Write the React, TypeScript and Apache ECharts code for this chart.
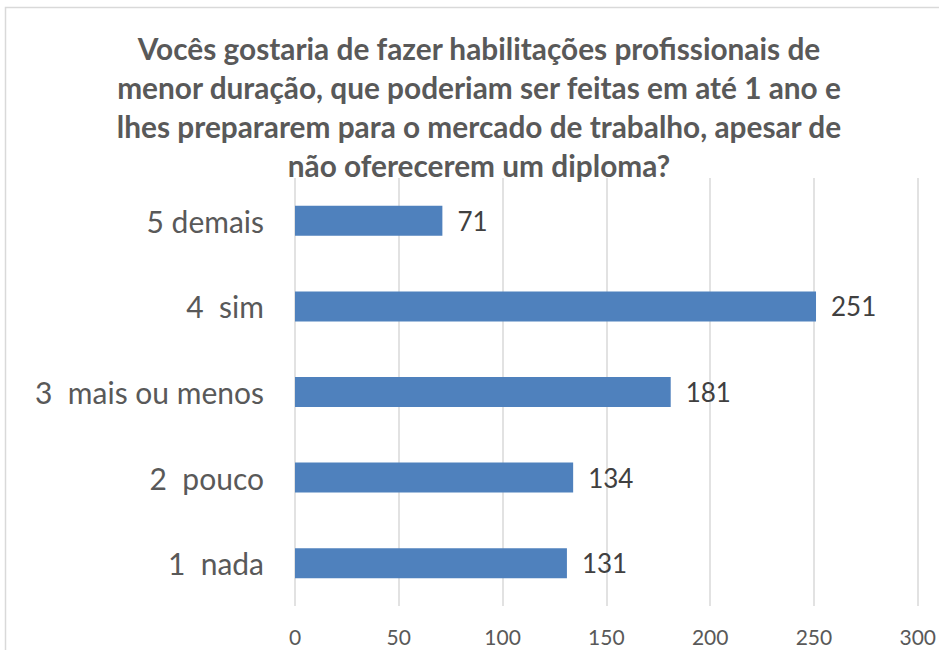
import React, { useEffect, useRef } from "react";
import * as echarts from "echarts";

const categories = ["1  nada", "2  pouco", "3  mais ou menos", "4  sim", "5 demais"];
const values = [131, 134, 181, 251, 71];
const titleText =
  "Vocês gostaria de fazer habilitações profissionais de\nmenor duração, que poderiam ser feitas em até 1 ano e\nlhes prepararem para o mercado de trabalho, apesar de\nnão oferecerem um diploma?";

const FONT = "Lato, 'Open Sans', sans-serif";

export default function App() {
  const ref = useRef<HTMLDivElement>(null);
  useEffect(() => {
    if (!ref.current) return;
    const chart = echarts.init(ref.current, undefined, { renderer: "svg" });
    chart.setOption({
      animation: false,
      backgroundColor: "#ffffff",
      graphic: [
        {
          type: "rect",
          shape: { x: 5.5, y: 7.5, width: 1000, height: 1000 },
          style: { fill: "none", stroke: "#d9d9d9", lineWidth: 1.5 },
          silent: true,
        },
        {
          type: "text",
          x: 479,
          y: 29,
          silent: true,
          style: {
            text: titleText,
            fontFamily: FONT,
            fontSize: 29.8,
            fontWeight: "bold",
            fill: "#595959",
            lineHeight: 39,
            align: "center",
            verticalAlign: "top",
          },
        },
      ],
      grid: { left: 295, right: 21, top: 178, bottom: 44, containLabel: false },
      xAxis: {
        type: "value",
        min: 0,
        max: 300,
        interval: 50,
        axisLine: { show: false },
        axisTick: { show: false },
        splitLine: { show: true, lineStyle: { color: "#d9d9d9", width: 1.5 } },
        axisLabel: { fontFamily: FONT, fontSize: 21, color: "#595959", margin: 20 },
      },
      yAxis: {
        type: "category",
        data: categories,
        axisLine: { show: false },
        axisTick: { show: false },
        axisLabel: { fontFamily: FONT, fontSize: 30, color: "#595959", margin: 31 },
      },
      series: [
        {
          type: "bar",
          data: values,
          barWidth: 30,
          itemStyle: { color: "#4f81bd" },
          label: {
            show: true,
            position: "right",
            distance: 15,
            fontFamily: FONT,
            fontSize: 26,
            color: "#404040",
          },
        },
      ],
    });
    return () => chart.dispose();
  }, []);
  return (
    <div
      ref={ref}
      style={{ position: "absolute", left: 0, top: 0, width: 939, height: 650 }}
    />
  );
}
